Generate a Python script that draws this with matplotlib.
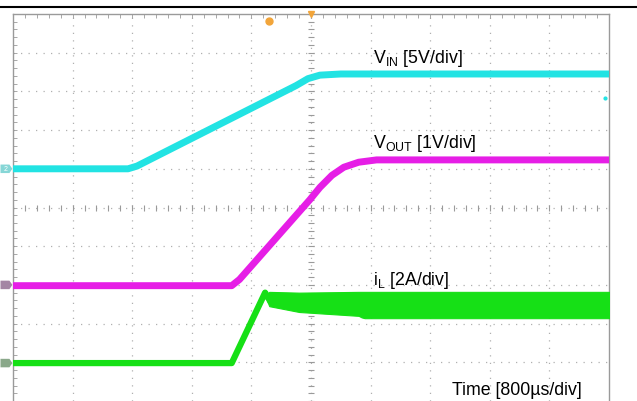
import numpy as np
import matplotlib
matplotlib.use("Agg")
import matplotlib.pyplot as plt
from matplotlib.patches import Polygon

plt.rcParams['font.family'] = ['Liberation Sans', 'DejaVu Sans']
plt.rcParams['mathtext.fontset'] = 'custom'
plt.rcParams['mathtext.rm'] = 'Liberation Sans'
plt.rcParams['mathtext.it'] = 'Liberation Sans:italic'

# ---- data (oscilloscope divisions: x 0..10, y -5..5) ----
vin_t = [0.0, 1.93, 2.08, 4.75, 4.95, 5.15, 5.50, 10.0]
vin_v = [1.00, 1.00, 1.07, 3.15, 3.33, 3.42, 3.45, 3.45]

vout_t = [0.0, 3.67, 3.80, 4.98, 5.15, 5.35, 5.55, 5.80, 6.10, 10.0]
vout_v = [-2.02, -2.02, -1.86, 0.20, 0.52, 0.83, 1.04, 1.17, 1.23, 1.23]

il_t = [0.0, 3.67, 4.23, 4.30]
il_v = [-4.02, -4.02, -2.20, -2.38]

ripple_t = [4.26, 4.30, 4.80, 5.80, 5.85, 5.90, 10.0]
ripple_hi = [-2.24, -2.18, -2.20, -2.18, -2.18, -2.18, -2.18]
ripple_lo = [-2.40, -2.55, -2.70, -2.80, -2.84, -2.86, -2.86]

labels = [r'V$_{\rm IN}$ [5V/div]', r'V$_{\rm OUT}$ [1V/div]',
          r'i$_{\rm L}$ [2A/div]', 'Time [800µs/div]']

CYAN = '#22E3E3'
MAG = '#E61EE6'
GRN = '#16E016'
GRID = '#b0b0b0'
FRAME = '#9a9a9a'

fig = plt.figure(figsize=(6.37, 4.02), dpi=100)
ax = fig.add_axes([13/637, 0, 596/637, 387/402])
ax.set_xlim(0, 10)
ax.set_ylim(-5, 5)

# grid
for gx in range(1, 10):
    ax.axvline(gx, color=GRID, lw=0.9, ls=(0, (1, 5)), zorder=0)
for gy in range(-4, 5):
    ax.axhline(gy, color=GRID, lw=0.9, ls=(0, (1, 5)), zorder=0)
# center line ticks
ax.plot(np.arange(0, 10.01, 0.2), np.zeros(51), ls='none', marker='|',
        ms=4, mew=0.8, color=FRAME, zorder=0)
ax.plot(np.zeros(51) + 5, np.arange(-5, 5.01, 0.2), ls='none', marker='_',
        ms=4, mew=0.8, color=FRAME, zorder=0)

for s in ['left', 'top', 'right']:
    ax.spines[s].set_color(FRAME)
    ax.spines[s].set_linewidth(1.0)
ax.spines['bottom'].set_visible(False)
ax.set_xticks([])
ax.set_yticks([])
ax.set_xticks(np.arange(0, 10.01, 0.2), minor=True)
ax.set_yticks(np.arange(-5, 5.01, 0.2), minor=True)
ax.tick_params(which='minor', direction='in', length=3, color=FRAME,
               top=True, bottom=False, left=True, right=False,
               labelbottom=False, labelleft=False)

# traces
ax.plot(vin_t, vin_v, color=CYAN, lw=5, solid_joinstyle='round', zorder=3)
ax.plot(vout_t, vout_v, color=MAG, lw=5, solid_joinstyle='round', zorder=3)
ax.plot(il_t, il_v, color=GRN, lw=4.5, solid_joinstyle='round', zorder=3)
ax.fill_between(ripple_t, ripple_lo, ripple_hi, color=GRN, lw=0.8,
                edgecolor=GRN, zorder=3)

# labels
ax.text(6.04, 3.75, labels[0], fontsize=12.8, va='baseline', ha='left')
ax.text(6.04, 1.56, labels[1], fontsize=12.8, va='baseline', ha='left')
ax.text(6.04, -1.97, labels[2], fontsize=12.8, va='baseline', ha='left')
ax.text(7.37, -4.81, labels[3], fontsize=12.8, va='baseline', ha='left')

# channel flags on the left
def flag(y, fc, txt):
    pts = [(-0.21, y + 0.11), (-0.06, y + 0.11), (-0.01, y),
           (-0.06, y - 0.11), (-0.21, y - 0.11)]
    ax.add_patch(Polygon(pts, closed=True, fc=fc, ec='none', clip_on=False, zorder=5))
    if txt:
        ax.text(-0.13, y, txt, fontsize=5, color='white', ha='center',
                va='center', clip_on=False, zorder=6)

flag(1.0, '#86D6D6', '2')
flag(-2.0, '#A486A4', '')
flag(-4.02, '#8AA88A', '')

# trigger markers
ax.plot([4.29], [4.82], marker='o', ms=5, color='#F2A53A', clip_on=False, zorder=5)
ax.plot([5.0], [5.0], marker='v', ms=4, color='#F2A53A', clip_on=False, zorder=5)
ax.plot([9.93], [2.83], marker='o', ms=2, color=CYAN, zorder=5)

# top rule
fig.add_artist(plt.Line2D([0, 1], [1 - 8/402, 1 - 8/402], color='black',
                          lw=1.5, transform=fig.transFigure))

fig.savefig('out.png', dpi=100)
